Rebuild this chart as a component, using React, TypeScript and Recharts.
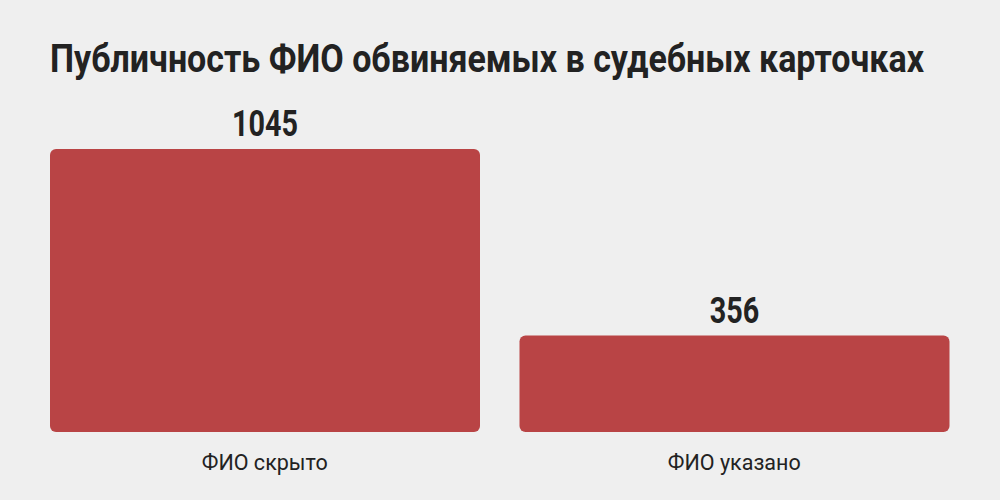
import { useLayoutEffect, useRef, useState } from 'react'
import { BarChart, Bar, XAxis, YAxis, LabelList } from 'recharts'

const categories = ['ФИО скрыто', 'ФИО указано']
const counts = [1045, 356]
const title = 'Публичность ФИО обвиняемых в судебных карточках'

const chartData = categories.map((name, i) => ({ name, count: counts[i] }))

const BAR_COLOR = '#b94445'
const TEXT_COLOR = '#222222'
const TITLE_WIDTH = 874

// значения над столбиками, шрифт поуже как в оригинале
const ValueLabel = (props: any) => {
  const { x, y, width, value } = props
  const text = String(value)
  return (
    <text
      x={Number(x) + Number(width) / 2}
      y={Number(y) - 13}
      textAnchor="middle"
      fontFamily="Roboto"
      fontWeight={700}
      fontSize={36}
      fill={TEXT_COLOR}
      textLength={text.length * 16.5}
      lengthAdjust="spacingAndGlyphs"
    >
      {text}
    </text>
  )
}

const CategoryTick = (props: any) => {
  const { x, y, payload } = props
  return (
    <text
      x={x}
      y={y + 30}
      textAnchor="middle"
      fontFamily="Roboto"
      fontSize={21.5}
      fill={TEXT_COLOR}
    >
      {payload.value}
    </text>
  )
}

// заголовок сжат по ширине через scaleX, чтобы имитировать condensed-шрифт
function Title() {
  const ref = useRef<SVGTextElement>(null)
  const [sx, setSx] = useState(0.8)
  useLayoutEffect(() => {
    if (ref.current) {
      const w = ref.current.getComputedTextLength()
      if (w > 0) setSx(TITLE_WIDTH / w)
    }
  }, [])
  return (
    <svg width={1000} height={110} style={{ position: 'absolute', left: 0, top: 0 }}>
      <g transform={`translate(50,72) scale(${sx},1)`}>
        <text ref={ref} x={0} y={0} fontFamily="Roboto" fontWeight={700} fontSize={38} fill={TEXT_COLOR}>
          {title}
        </text>
      </g>
    </svg>
  )
}

export default function App() {
  return (
    <div style={{ position: 'absolute', left: 0, top: 0, width: 1000, height: 500, background: '#efefef' }}>
      <Title />
      <div style={{ position: 'absolute', left: 0, top: 0 }}>
        <BarChart
          width={1000}
          height={500}
          data={chartData}
          margin={{ top: 149, right: 31, bottom: 0, left: 30 }}
        >
          <XAxis
            dataKey="name"
            axisLine={false}
            tickLine={false}
            tick={<CategoryTick />}
            height={68}
          />
          <YAxis hide domain={[0, 1045]} />
          <Bar dataKey="count" fill={BAR_COLOR} barSize={430} radius={6} isAnimationActive={false}>
            <LabelList dataKey="count" content={<ValueLabel />} />
          </Bar>
        </BarChart>
      </div>
    </div>
  )
}
